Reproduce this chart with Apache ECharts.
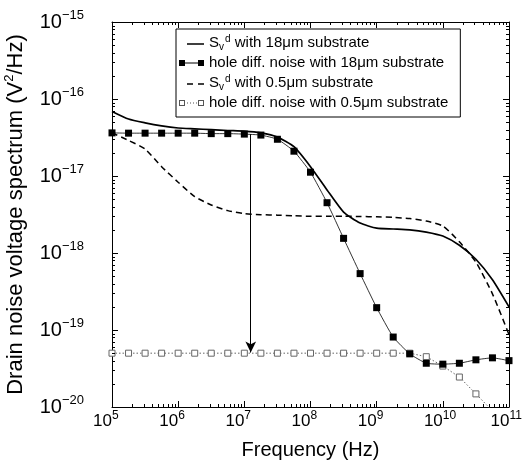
<!DOCTYPE html>
<html><head><meta charset="utf-8">
<script src="https://cdn.jsdelivr.net/npm/echarts@6/dist/echarts.min.js"></script>
<style>html,body{margin:0;padding:0;background:#fff}#c{width:527px;height:468px}</style>
</head><body><div id="c"></div>
<script>
// Frequencies (Hz), quarter-decade steps from 1e5 to 1e11
const freqs = [1e5, 1.778e5, 3.162e5, 5.623e5, 1e6, 1.778e6, 3.162e6, 5.623e6, 1e7, 1.778e7, 3.162e7, 5.623e7,
  1e8, 1.778e8, 3.162e8, 5.623e8, 1e9, 1.778e9, 3.162e9, 5.623e9, 1e10, 1.778e10, 3.162e10, 5.623e10, 1e11];
// Sv^d with 18um substrate (solid)
const svd18 = [6.9e-17, 5.5e-17, 4.9e-17, 4.47e-17, 4.2e-17, 4.1e-17, 4.0e-17, 3.9e-17, 3.83e-17, 3.63e-17, 3.2e-17, 2.4e-17,
  1.32e-17, 6.6e-18, 3.4e-18, 2.45e-18, 2.1e-18, 2.05e-18, 2.0e-18, 1.87e-18, 1.66e-18, 1.26e-18, 8.3e-19, 4.5e-19, 2.0e-19];
// hole diffusion noise with 18um substrate (filled squares)
const hole18 = [3.63e-17, 3.6e-17, 3.6e-17, 3.6e-17, 3.6e-17, 3.6e-17, 3.55e-17, 3.55e-17, 3.5e-17, 3.4e-17, 3.0e-17, 2.1e-17,
  1.12e-17, 4.5e-18, 1.55e-18, 5.4e-19, 1.95e-19, 8.1e-20, 4.9e-20, 3.7e-20, 3.6e-20, 3.7e-20, 4.1e-20, 4.35e-20, 4.0e-20];
// Sv^d with 0.5um substrate (dashed)
const svd05 = [3.63e-17, 2.9e-17, 2.24e-17, 1.32e-17, 8.3e-18, 5.4e-18, 4.2e-18, 3.55e-18, 3.24e-18, 3.15e-18, 3.1e-18, 3.05e-18,
  3.0e-18, 3.0e-18, 3.0e-18, 2.98e-18, 2.95e-18, 2.9e-18, 2.8e-18, 2.6e-18, 2.24e-18, 1.4e-18, 7.6e-19, 2.95e-19, 8.7e-20];
// hole diffusion noise with 0.5um substrate (hollow squares)
const hole05 = [5e-20, 5e-20, 5e-20, 5e-20, 5e-20, 5e-20, 5e-20, 5e-20, 5e-20, 5e-20, 5e-20, 5e-20,
  5e-20, 5e-20, 5e-20, 5e-20, 5e-20, 5e-20, 5e-20, 4.5e-20, 3.4e-20, 2.45e-20, 1.48e-20, 8.9e-21, 5.2e-21];
// arrow annotation
const arrowFreq = 1.25e7;
const arrowFrom = 3.5e-17;
const arrowTo = 5.1e-20;
// tick labels
const xExpLabels = ['5', '6', '7', '8', '9', '10', '11'];
const yExpLabels = ['\u221220', '\u221219', '\u221218', '\u221217', '\u221216', '\u221215'];
const seriesNames = ['svd18', 'hole18', 'svd05', 'hole05'];
const legendLabels = [
  '{t|S}{sub|v}{sup|d}{t| with 18\u03bcm substrate}',
  '{t|hole diff. noise with 18\u03bcm substrate}',
  '{t|S}{sub|v}{sup|d}{t| with 0.5\u03bcm substrate}',
  '{t|hole diff. noise with 0.5\u03bcm substrate}'
];
const xTitle = 'Frequency (Hz)';
const yTitle = 'Drain noise voltage spectrum (V{sup|2}/Hz)';

const X_MIN = 1e5, X_MAX = 1e11, Y_MIN = 1e-20, Y_MAX = 1e-15;
// minor tick values (2..9 within each decade)
const xMinor = [], yMinor = [];
for (let e = 5; e < 11; e++) for (let k = 2; k <= 9; k++) xMinor.push(k * Math.pow(10, e));
for (let e = -20; e < -15; e++) for (let k = 2; k <= 9; k++) yMinor.push(k * Math.pow(10, e));

const pairs = arr => freqs.map((f, i) => [f, arr[i]]);
const FONT = '"Liberation Sans", Arial, Helvetica, sans-serif';
const black = '#000';
const MINOR_LEN = 3;
const crisp = v => Math.round(v) + 0.5;

const baseX = {type: 'log', logBase: 10, min: X_MIN, max: X_MAX, splitLine: {show: false},
  axisLine: {show: true, lineStyle: {color: black, width: 1}}};
const baseY = {type: 'log', logBase: 10, min: Y_MIN, max: Y_MAX, splitLine: {show: false},
  axisLine: {show: true, lineStyle: {color: black, width: 1}}};

const chart = echarts.init(document.getElementById('c'), null, {renderer: 'canvas'});
chart.setOption({
  animation: false,
  backgroundColor: '#fff',
  textStyle: {fontFamily: FONT},
  grid: {left: 112, right: 18, top: 22, bottom: 61, containLabel: false, outerBoundsMode: 'none'},
  xAxis: [
    Object.assign({}, baseX, {position: 'bottom',
      axisTick: {inside: true, length: 6, lineStyle: {color: black}},
      axisLabel: {margin: 3, color: black,
        formatter: (v, i) => {
          const e = xExpLabels[i];
          return '{b|10}{s|' + e + '}{' + (e.length > 1 ? 'h2' : 'h1') + '| }';
        },
        rich: {b: {fontSize: 17, lineHeight: 22, fontFamily: FONT, color: black},
               s: {fontSize: 12, lineHeight: 12, verticalAlign: 'top', fontFamily: FONT, color: black},
               h1: {fontSize: 12, width: 12.2, color: 'rgba(0,0,0,0)'},
               h2: {fontSize: 12, width: 5.6, color: 'rgba(0,0,0,0)'}}},
      name: xTitle, nameLocation: 'middle', nameGap: 33,
      nameTextStyle: {fontSize: 20, color: black, fontFamily: FONT}}),
    Object.assign({}, baseX, {position: 'top', axisTick: {inside: true, length: 6, lineStyle: {color: black}}, axisLabel: {show: false}})
  ],
  yAxis: [
    Object.assign({}, baseY, {position: 'left',
      axisTick: {inside: true, length: 6, lineStyle: {color: black}},
      axisLabel: {margin: 28, color: black,
        formatter: (v, i) => '{b|10}{s|' + yExpLabels[i] + '}',
        rich: {b: {fontSize: 20, lineHeight: 26, fontFamily: FONT, color: black},
               s: {fontSize: 13, lineHeight: 13, verticalAlign: 'top', fontFamily: FONT, color: black}}},
      name: yTitle, nameLocation: 'middle', nameGap: 75, nameRotate: 90,
      nameTextStyle: {fontSize: 22, lineHeight: 26, color: black, fontFamily: FONT,
        rich: {sup: {fontSize: 13, lineHeight: 13, verticalAlign: 'top', fontFamily: FONT, color: black}}}}),
    Object.assign({}, baseY, {position: 'right', axisTick: {inside: true, length: 6, lineStyle: {color: black}}, axisLabel: {show: false}})
  ],
  legend: {
    orient: 'vertical', left: 176, top: 29,
    padding: [5, 12, 5, 3], itemGap: 2, itemWidth: 25, itemHeight: 7,
    borderColor: black, borderWidth: 1, borderRadius: 0, backgroundColor: '#fff',
    data: [
      {name: seriesNames[0], icon: 'path://M0,0h0.05v0.05h-0.05z M8,2h17v1.3h-17z', itemStyle: {color: black, borderWidth: 0}},
      {name: seriesNames[1], icon: 'path://M0,0h6v6h-6z M6,2.5h13v1h-13z M19,0h6v6h-6z', itemStyle: {color: black, borderWidth: 0}},
      {name: seriesNames[2], icon: 'path://M0,0h0.05v0.05h-0.05z M8,2h6v1.3h-6z M19,2h6v1.3h-6z', itemStyle: {color: black, borderWidth: 0}},
      {name: seriesNames[3], icon: 'path://M0,0h6v1h-6z M0,5h6v1h-6z M0,0h1v6h-1z M5,0h1v6h-1z M8,2.5h1v1h-1z M11,2.5h1v1h-1z M14,2.5h1v1h-1z M17,2.5h1v1h-1z M19,0h6v1h-6z M19,5h6v1h-6z M19,0h1v6h-1z M24,0h1v6h-1z', itemStyle: {color: '#555', borderWidth: 0}}
    ],
    formatter: name => legendLabels[seriesNames.indexOf(name)],
    textStyle: {color: black, fontFamily: FONT, fontSize: 15, lineHeight: 18,
      rich: {t: {fontSize: 15, lineHeight: 18, fontFamily: FONT, color: black},
             sub: {fontSize: 10, lineHeight: 10, verticalAlign: 'bottom', fontFamily: FONT, color: black},
             sup: {fontSize: 10, lineHeight: 10, verticalAlign: 'top', fontFamily: FONT, color: black, padding: [0, 0, 0, 1]}}}
  },
  series: [
    // minor ticks on x (bottom and top), positioned by the axis scale
    {name: 'xMinorTicks', type: 'custom', silent: true, clip: false, z: 10,
      data: xMinor.map(v => [v, Y_MIN]),
      renderItem: (params, api) => {
        const b = api.coord([api.value(0), Y_MIN]);
        const t = api.coord([api.value(0), Y_MAX]);
        const x = crisp(b[0]);
        return {type: 'group', children: [
          {type: 'line', shape: {x1: x, y1: b[1], x2: x, y2: b[1] - MINOR_LEN}, style: {stroke: black, lineWidth: 1}},
          {type: 'line', shape: {x1: x, y1: t[1], x2: x, y2: t[1] + MINOR_LEN}, style: {stroke: black, lineWidth: 1}}
        ]};
      }},
    // minor ticks on y (left and right)
    {name: 'yMinorTicks', type: 'custom', silent: true, clip: false, z: 10,
      data: yMinor.map(v => [X_MIN, v]),
      renderItem: (params, api) => {
        const l = api.coord([X_MIN, api.value(1)]);
        const r = api.coord([X_MAX, api.value(1)]);
        const y = crisp(l[1]);
        return {type: 'group', children: [
          {type: 'line', shape: {x1: l[0], y1: y, x2: l[0] + MINOR_LEN, y2: y}, style: {stroke: black, lineWidth: 1}},
          {type: 'line', shape: {x1: r[0], y1: y, x2: r[0] - MINOR_LEN, y2: y}, style: {stroke: black, lineWidth: 1}}
        ]};
      }},
    {name: seriesNames[3], type: 'line', data: pairs(hole05), xAxisIndex: 0, yAxisIndex: 0,
      symbol: 'rect', symbolSize: 6, showAllSymbol: true, clip: true,
      itemStyle: {color: '#fff', borderColor: '#666', borderWidth: 1},
      lineStyle: {color: '#666', width: 1, type: [1.5, 2]}, z: 2},
    {name: seriesNames[2], type: 'line', data: pairs(svd05), xAxisIndex: 0, yAxisIndex: 0,
      symbol: 'none', smooth: 0.2,
      itemStyle: {color: black}, lineStyle: {color: black, width: 1.5, type: [6, 4]}, z: 3},
    {name: seriesNames[0], type: 'line', data: pairs(svd18), xAxisIndex: 0, yAxisIndex: 0,
      symbol: 'none', smooth: 0.2,
      itemStyle: {color: black}, lineStyle: {color: black, width: 1.7}, z: 4},
    {name: seriesNames[1], type: 'line', data: pairs(hole18), xAxisIndex: 0, yAxisIndex: 0,
      symbol: 'rect', symbolSize: 7, showAllSymbol: true, smooth: 0.15,
      itemStyle: {color: black}, lineStyle: {color: black, width: 0.8}, z: 5,
      markLine: {silent: true, symbol: ['none', 'arrow'], symbolSize: [8, 11],
        lineStyle: {color: black, width: 1, type: 'solid'}, label: {show: false},
        data: [[{coord: [arrowFreq, arrowFrom]}, {coord: [arrowFreq, arrowTo]}]]}}
  ]
});
</script></body></html>
